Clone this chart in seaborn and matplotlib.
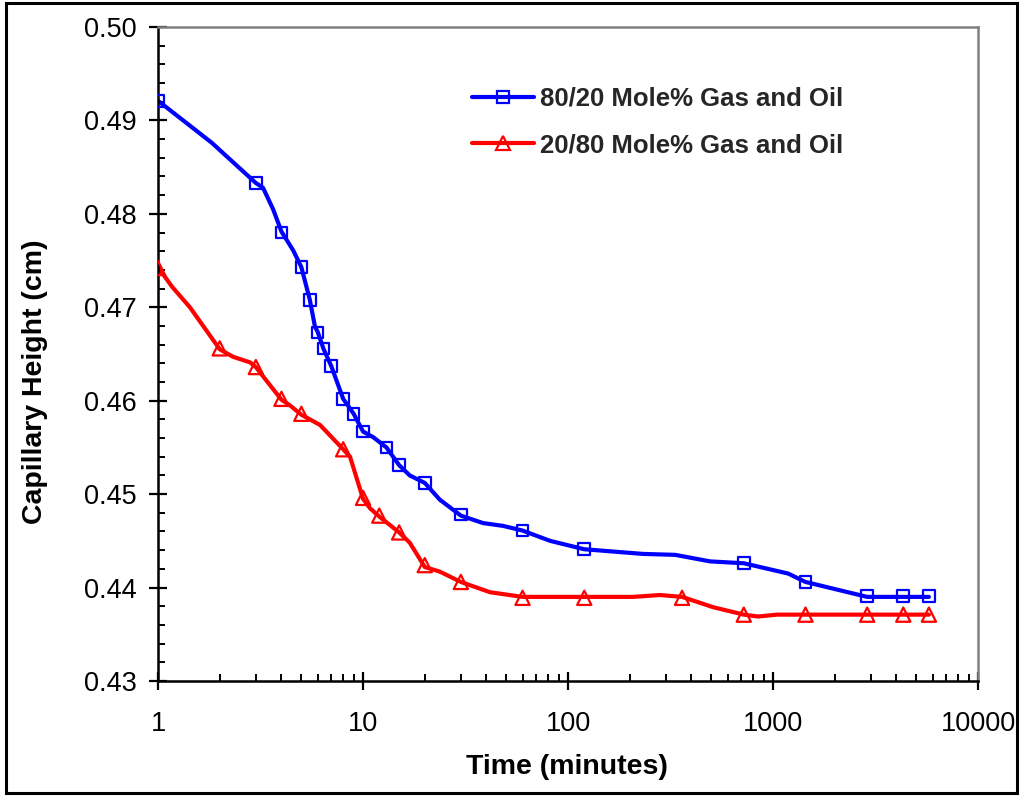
import numpy as np
import pandas as pd
import matplotlib
matplotlib.use("Agg")
import matplotlib.pyplot as plt
from matplotlib.lines import Line2D
from matplotlib.patches import Rectangle
from matplotlib.ticker import LogLocator, MultipleLocator, FixedLocator, FixedFormatter, NullFormatter
import seaborn as sns

# ---- measured points (markers) ----
gas_rich_time = [1, 3, 4, 5, 5.5, 6, 6.4, 7, 8, 9, 10, 13, 15, 20, 30, 60, 120,
                 720, 1440, 2880, 4320, 5760]
gas_rich_height = [0.4921, 0.4833, 0.4780, 0.4743, 0.4708, 0.4673, 0.4656, 0.4637,
                   0.4602, 0.4586, 0.4567, 0.4550, 0.4531, 0.4512, 0.4478, 0.4461,
                   0.4441, 0.4426, 0.4406, 0.4391, 0.4391, 0.4391]

oil_rich_time = [1, 2, 3, 4, 5, 8, 10, 12, 15, 20, 30, 60, 120, 360, 720, 1440,
                 2880, 4320, 5760]
oil_rich_height = [0.4742, 0.4656, 0.4636, 0.4602, 0.4586, 0.4548, 0.4496, 0.4477,
                   0.4459, 0.4424, 0.4406, 0.4389, 0.4389, 0.4389, 0.4371, 0.4371,
                   0.4371, 0.4371, 0.4371]

# ---- continuous trend curves ----
gas_rich_curve_time = [1, 1.83, 3, 3.25, 3.64, 4, 4.56, 5, 5.5, 5.83, 6, 6.4, 7, 8, 9,
                       10, 11.2, 13, 15, 16.9, 20, 23.7, 30, 38.5, 48.2, 60, 81.7,
                       120, 232, 333, 493, 720, 1184, 1440, 2880, 5760]
gas_rich_curve_height = [0.4921, 0.4876, 0.4833, 0.4828, 0.4805, 0.4781, 0.4761,
                         0.4743, 0.4708, 0.4679, 0.4674, 0.4656, 0.4637, 0.4602,
                         0.4586, 0.4567, 0.4561, 0.4550, 0.4531, 0.4520, 0.4512,
                         0.4494, 0.4477, 0.4469, 0.4466, 0.4461, 0.4450, 0.4441,
                         0.4436, 0.4435, 0.4428, 0.4426, 0.4415, 0.4406, 0.4390,
                         0.4390]

oil_rich_curve_time = [1, 1.17, 1.43, 2, 2.32, 2.81, 3, 3.15, 4, 4.4, 5, 6.17, 8,
                       8.64, 10, 10.8, 12, 15, 16.9, 20, 23.7, 30, 41.6, 60, 120,
                       207, 281, 360, 510, 720, 845, 1046, 5760]
oil_rich_curve_height = [0.4743, 0.4722, 0.4700, 0.4655, 0.4647, 0.4641, 0.4636,
                         0.4630, 0.4601, 0.4595, 0.4585, 0.4574, 0.4548, 0.4540,
                         0.4495, 0.4485, 0.4476, 0.4459, 0.4448, 0.4422, 0.4417,
                         0.4406, 0.4395, 0.4390, 0.4390, 0.4390, 0.4392, 0.4390,
                         0.4379, 0.4371, 0.4369, 0.4371, 0.4371]

labels = ["80/20 Mole% Gas and Oil", "20/80 Mole% Gas and Oil"]
x_ticks = [1, 10, 100, 1000, 10000]
x_tick_labels = ["1", "10", "100", "1000", "10000"]
y_ticks = [0.43, 0.44, 0.45, 0.46, 0.47, 0.48, 0.49, 0.50]

BLUE = "#0000FF"
RED = "#FF0000"

sns.set_theme(style="white")
plt.rcParams["font.family"] = ["Liberation Sans", "DejaVu Sans"]

fig = plt.figure(figsize=(10.21, 7.96), dpi=100)
ax = fig.add_axes([0.1548, 0.1445, 0.8031, 0.8216])

curves = pd.DataFrame({
    "t": gas_rich_curve_time + oil_rich_curve_time,
    "h": gas_rich_curve_height + oil_rich_curve_height,
    "s": [labels[0]] * len(gas_rich_curve_time) + [labels[1]] * len(oil_rich_curve_time),
})
sns.lineplot(data=curves, x="t", y="h", hue="s", palette=[BLUE, RED],
             sort=False, estimator=None, linewidth=3.0, legend=False, ax=ax)

sns.scatterplot(x=gas_rich_time, y=gas_rich_height, marker="s", s=70,
                facecolor="none", edgecolor=BLUE, linewidth=1.6, ax=ax, zorder=3)
sns.scatterplot(x=oil_rich_time, y=oil_rich_height, marker="^", s=105,
                facecolor="none", edgecolor=RED, linewidth=1.6, ax=ax, zorder=3)

ax.set_xscale("log")
ax.set_xlim(1, 10000)
ax.set_ylim(0.43, 0.50)

ax.xaxis.set_major_locator(FixedLocator(x_ticks))
ax.xaxis.set_major_formatter(FixedFormatter(x_tick_labels))
ax.xaxis.set_minor_locator(LogLocator(base=10, subs=np.arange(2, 10), numticks=20))
ax.xaxis.set_minor_formatter(NullFormatter())
ax.yaxis.set_major_locator(FixedLocator(y_ticks))
ax.yaxis.set_minor_locator(MultipleLocator(0.002))
ax.set_yticklabels([f"{v:.2f}" for v in y_ticks])

ax.tick_params(axis="both", which="major", direction="inout", length=13, width=1.6,
               color="black", labelsize=19.5, labelcolor="black")
ax.tick_params(axis="x", which="major", pad=15)
ax.tick_params(axis="y", which="major", pad=9)
ax.tick_params(axis="both", which="minor", direction="in", length=5, width=1.4,
               color="black")
ax.tick_params(left=True, bottom=True, top=False, right=False)
ax.tick_params(which="minor", left=True, bottom=True, top=False, right=False)

for side in ["left", "bottom"]:
    ax.spines[side].set_color("black")
    ax.spines[side].set_linewidth(1.8)
for side in ["top", "right"]:
    ax.spines[side].set_color("#808080")
    ax.spines[side].set_linewidth(1.8)
ax.grid(False)

ax.set_xlabel("Time (minutes)", fontsize=20.5, fontweight="bold", color="black")
ax.set_ylabel("Capillary Height (cm)", fontsize=20.5, fontweight="bold", color="black")
ax.xaxis.set_label_coords(0.499, -0.112)
ax.yaxis.set_label_coords(-0.134, 0.457)

handles = [
    Line2D([0], [0], color=BLUE, lw=3.0, marker="s", markersize=8.5,
           markerfacecolor="none", markeredgecolor=BLUE, markeredgewidth=1.6),
    Line2D([0], [0], color=RED, lw=3.0, marker="^", markersize=10,
           markerfacecolor="none", markeredgecolor=RED, markeredgewidth=1.6),
]
leg = ax.legend(handles, labels, loc="upper left", bbox_to_anchor=(0.355, 0.944),
                frameon=False, handlelength=2.4, handletextpad=0.25,
                labelspacing=0.87, prop={"size": 18.5, "weight": "bold"})

# outer border around the whole figure
fig.patches.append(Rectangle((0.0059, 0.004), 0.9902, 0.9922, transform=fig.transFigure,
                             fill=False, edgecolor="black", linewidth=2.2))

fig.savefig("out.png", dpi=100)
